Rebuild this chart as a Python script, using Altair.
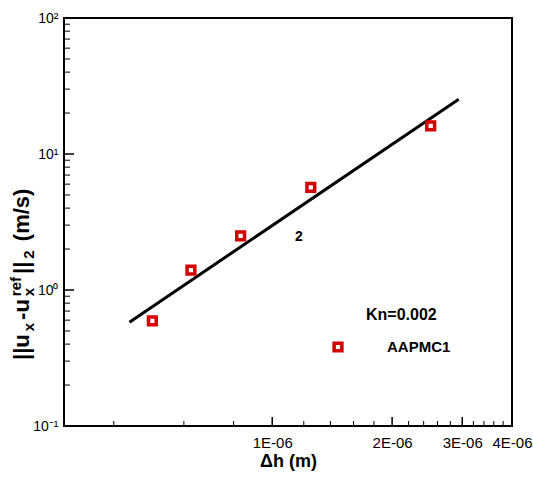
import altair as alt
import pandas as pd

# ---- data ----
dh = [5.0e-7, 6.25e-7, 8.33e-7, 1.25e-6, 2.5e-6]
err = [0.594, 1.40, 2.50, 5.69, 16.1]
ref_dh = [4.38e-7, 2.94e-6]
ref_err = [0.58, 25.3]

x_major = [1e-6, 2e-6, 3e-6, 4e-6]
x_minor = [4e-7, 6e-7, 8e-7, 1.2e-6, 1.4e-6, 1.6e-6, 1.8e-6,
           2.2e-6, 2.4e-6, 2.6e-6, 2.8e-6, 3.2e-6, 3.4e-6, 3.6e-6, 3.8e-6]
y_major = [0.1, 1, 10, 100]
y_minor = [m * d for d in [0.1, 1, 10] for m in [2, 3, 4, 5, 6, 7, 8, 9]]

# y-axis title pieces: (text, kind) kind: main / sub / sup
ytitle = [("||u", "main"), ("x", "sub"), ("-u", "main"), ("x", "sub"), ("ref", "sup"),
          ("||", "main"), ("2", "sub"), ("(m/s)", "main")]

W, H = 448, 408
FONT = "Liberation Sans"
RED = "#d40000"

xs = alt.Scale(type="log", domain=[3e-7, 4e-6], nice=False)
ys = alt.Scale(type="log", domain=[0.1, 100], nice=False)

pts_df = pd.DataFrame({"dh": dh, "err": err})
ref_df = pd.DataFrame({"dh": ref_dh, "err": ref_err})

x_axis = alt.Axis(values=x_major, labelExpr="round(datum.value*1e6) + 'E-06'",
                  ticks=False, domain=False, grid=False, labelFont=FONT,
                  labelFontSize=15, labelColor="black", labelPadding=9,
                  labelFlush=False, labelOverlap=False,
                  title="Δh (m)", titleFont=FONT, titleFontSize=18,
                  titleFontWeight="bold", titleColor="black",
                  titleBaseline="alphabetic", titleY=40)
y_axis = alt.Axis(values=y_major,
                  labelExpr="datum.value < 0.5 ? '10⁻¹' : datum.value < 5 ? '10⁰' : datum.value < 50 ? '10¹' : '10²'",
                  ticks=False, domain=False, grid=False, labelFont=FONT,
                  labelFontSize=14, labelColor="black", labelPadding=6,
                  labelFlush=False, labelOverlap=False, title=None)

line = alt.Chart(ref_df).mark_line(color="black", strokeWidth=3).encode(
    x=alt.X("dh:Q", scale=xs, axis=x_axis),
    y=alt.Y("err:Q", scale=ys, axis=y_axis),
)

pts = alt.Chart(pts_df).mark_point(shape="square", filled=False, color=RED,
                                   strokeWidth=3.5, size=60, opacity=1).encode(
    x=alt.X("dh:Q", scale=xs, axis=x_axis),
    y=alt.Y("err:Q", scale=ys, axis=y_axis),
)

def xticks(vals, length, sw):
    return alt.Chart(pd.DataFrame({"t": vals})).mark_rule(color="black", strokeWidth=sw).encode(
        x=alt.X("t:Q", scale=xs, axis=x_axis), y=alt.value(H), y2=alt.value(H - length))

def yticks(vals, length, sw):
    return alt.Chart(pd.DataFrame({"t": vals})).mark_rule(color="black", strokeWidth=sw).encode(
        y=alt.Y("t:Q", scale=ys, axis=y_axis), x=alt.value(0), x2=alt.value(length))

ann = alt.Chart(pd.DataFrame({"a": [0]}))
kn = ann.mark_text(text="Kn=0.002", font=FONT, fontSize=16, fontWeight="bold",
                   align="left", baseline="alphabetic", color="black").encode(
    x=alt.value(302), y=alt.value(302))
lab = ann.mark_text(text="AAPMC1", font=FONT, fontSize=15, fontWeight="bold",
                    align="left", baseline="alphabetic", color="black").encode(
    x=alt.value(323), y=alt.value(334))
leg = ann.mark_point(shape="square", filled=False, color=RED, strokeWidth=3.5,
                     size=60, opacity=1).encode(x=alt.value(274), y=alt.value(329))
two = ann.mark_text(text="2", font=FONT, fontSize=14, fontWeight="bold",
                    align="center", baseline="middle", color="black").encode(
    x=alt.value(235), y=alt.value(219))

# ---- rotated y-axis title assembled from pieces (Arial-bold advance widths) ----
ADV = {"|": 0.280, "u": 0.611, "x": 0.556, "-": 0.333, "r": 0.389, "e": 0.556,
       "f": 0.333, "2": 0.556, " ": 0.278, "(": 0.333, "m": 0.889, "/": 0.278,
       "s": 0.556, ")": 0.333}
MAIN, SMALL = 22, 15
BASE_X = -35          # baseline of main text, relative to plot left edge
GAP = 3.0
SPACE = ADV[" "] * MAIN


def piece(txt, fs, bx, by):
    return ann.mark_text(text=txt, font=FONT, fontSize=fs, fontWeight="bold",
                         angle=270, align="left", baseline="alphabetic",
                         color="black").encode(x=alt.value(bx), y=alt.value(by))


pos = 342.0           # start (bottom) of the title, relative to plot top
title_layers = []
i = 0
while i < len(ytitle):
    txt, kind = ytitle[i]
    if txt.startswith("("):
        pos -= SPACE
    fs = MAIN if kind == "main" else SMALL
    bx = BASE_X + (5 if kind == "sub" else (-8 if kind == "sup" else 0))
    length = sum(ADV[c] for c in txt) * fs
    title_layers.append(piece(txt, fs, bx, pos))
    # a subscript followed by a superscript share the same start
    if i + 1 < len(ytitle) and kind == "sub" and ytitle[i + 1][1] == "sup":
        nxt = ytitle[i + 1][0]
        title_layers.append(piece(nxt, SMALL, BASE_X - 8, pos))
        length = max(length, sum(ADV[c] for c in nxt) * SMALL)
        i += 1
    pos -= length + GAP
    i += 1

chart = alt.layer(
    xticks(x_major, 9, 1.5), xticks(x_minor, 5, 1),
    yticks(y_major, 10, 1.5), yticks(y_minor, 6, 1),
    line, pts, leg, kn, lab, two, *title_layers,
).properties(
    width=W, height=H,
    autosize=alt.AutoSizeParams(type="none"),
    padding={"left": 64, "top": 18, "right": 21, "bottom": 51},
    background="white",
).configure_view(stroke="black", strokeWidth=2)

chart.save("out.html", embed_options={"renderer": "svg", "actions": False})
